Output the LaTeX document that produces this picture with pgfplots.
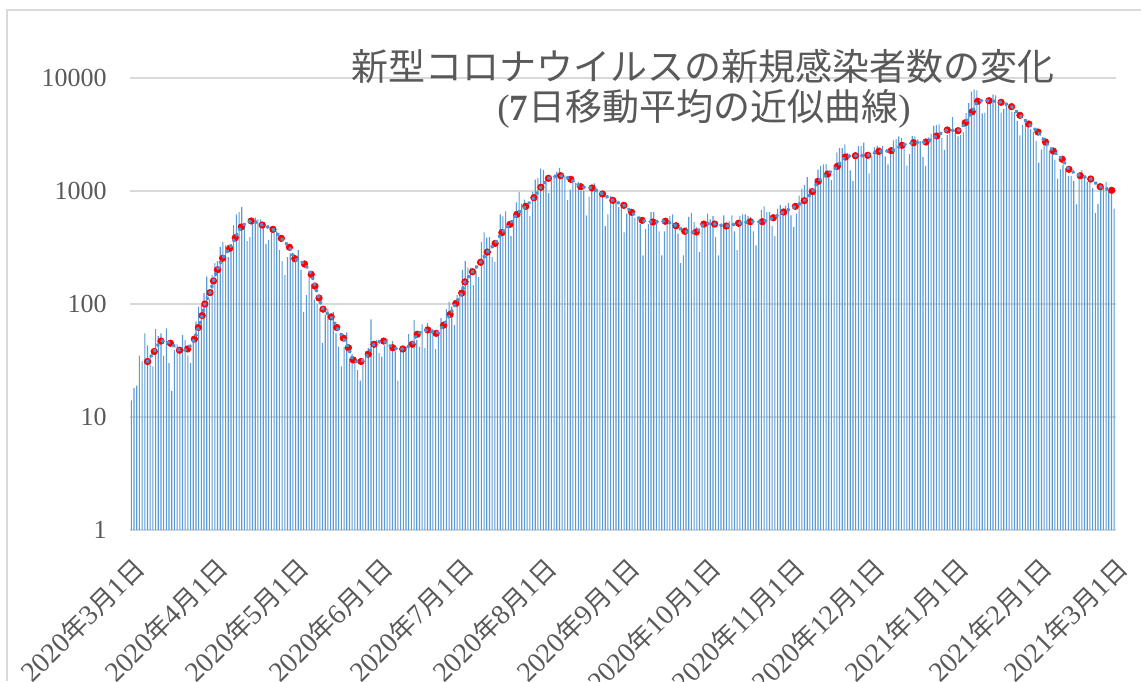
\documentclass[border=0pt]{standalone}
\usepackage{fontspec}
\setmainfont{Liberation Serif}
\newfontfamily\cjk[Scale=0.92]{Noto Sans CJK JP}
\newfontfamily\cjkt{Noto Sans CJK JP}
\usepackage{pgfplots}
\pgfplotsset{compat=1.18}
\usepackage{pgfplotstable}
\definecolor{txt}{HTML}{595959}
\definecolor{gridc}{HTML}{D9D9D9}
\definecolor{barblue}{HTML}{5B9BD5}
\definecolor{dotblue}{HTML}{5090D0}
\newcommand{\ymd}[2]{#1{\cjk 年}#2{\cjk 月}1{\cjk 日}}

\pgfplotstableread{
d v
0 14
1 18
2 19
3 35
4 31
5 55
6 43
7 35
8 28
9 60
10 52
11 55
12 35
13 61
14 30
15 17
16 39
17 44
18 41
19 53
20 48
21 35
22 30
23 48
24 70
25 95
26 98
27 125
28 175
29 110
30 180
31 230
32 240
33 320
34 355
35 330
36 260
37 340
38 500
39 620
40 650
41 720
42 500
43 360
44 390
45 550
46 580
47 560
48 560
49 500
50 340
51 370
52 450
53 430
54 440
55 300
56 240
57 180
58 260
59 280
60 270
61 270
62 300
63 200
64 85
65 120
66 195
67 150
68 110
69 100
70 90
71 45
72 80
73 90
74 75
75 85
76 55
77 42
78 28
79 42
80 56
81 33
82 36
83 30
84 26
85 21
86 29
87 38
88 41
89 73
90 45
91 48
92 37
93 34
94 43
95 49
96 40
97 47
98 38
99 21
100 38
101 41
102 42
103 54
104 41
105 72
106 48
107 42
108 66
109 41
110 68
111 58
112 60
113 40
114 55
115 75
116 70
117 90
118 105
119 95
120 65
121 120
122 125
123 200
124 240
125 210
126 209
127 147
128 194
129 173
130 355
131 430
132 387
133 391
134 260
135 235
136 335
137 620
138 595
139 660
140 505
141 400
142 630
143 795
144 981
145 770
146 840
147 710
148 600
149 980
150 1260
151 1300
152 1580
153 1540
154 1330
155 960
156 1240
157 1350
158 1480
159 1600
160 1440
161 1370
162 830
163 1030
164 1230
165 1180
166 1200
167 1000
168 1010
169 610
170 890
171 1070
172 1170
173 1030
174 920
175 910
176 490
177 620
178 900
179 850
180 830
181 720
182 760
183 430
184 630
185 650
186 670
187 580
188 590
189 510
190 270
191 460
192 510
193 650
194 650
195 550
196 440
197 270
198 440
199 580
200 600
201 620
202 480
203 420
204 230
205 270
206 480
207 590
208 640
209 530
210 480
211 290
212 520
213 540
214 630
215 560
216 600
217 390
218 270
219 490
220 610
221 520
222 540
223 610
224 440
225 300
226 600
227 620
228 620
229 600
230 590
231 440
232 330
233 510
234 680
235 730
236 650
237 650
238 490
239 400
240 700
241 750
242 700
243 740
244 780
245 610
246 480
247 630
248 910
249 1050
250 1130
251 1330
252 1070
253 960
254 1290
255 1550
256 1660
257 1720
258 1740
259 1440
260 1250
261 1700
262 2200
263 2400
264 2400
265 2590
266 2170
267 1520
268 1230
269 1940
270 2500
271 2500
272 2680
273 2040
274 1430
275 2030
276 2430
277 2510
278 2440
279 2510
280 2030
281 1720
282 2170
283 2810
284 2870
285 3040
286 2960
287 2370
288 1680
289 2120
290 3060
291 3040
292 2860
293 2760
294 1990
295 1660
296 2990
297 3210
298 3770
299 3830
300 3880
301 2940
302 2310
303 3120
304 3600
305 4520
306 3250
307 3050
308 3140
309 3310
310 4890
311 6000
312 7570
313 7950
314 7790
315 6090
316 4870
317 4930
318 5870
319 6600
320 7130
321 7010
322 5760
323 4930
324 5320
325 5650
326 5700
327 5040
328 5000
329 4180
330 3110
331 3850
332 4000
333 3820
334 3530
335 3340
336 2760
337 1780
338 2320
339 2630
340 2580
341 2280
342 2290
343 1890
344 1290
345 1560
346 1710
347 1580
348 1360
349 1360
350 1230
351 760
352 1300
353 1530
354 1310
355 1210
356 1230
357 1060
358 640
359 770
360 1150
361 1090
362 1200
363 1000
364 990
365 700
}\daily

\pgfplotstableread{
d v
6.0 31
8.5 38
11.0 47
14.5 45
17.9 39
20.9 40
23.4 49
24.9 62
26.3 79
27.3 100
29.2 126
30.5 160
32.0 201
33.9 254
36.5 311
38.6 386
40.8 480
44.5 543
48.6 500
52.6 458
55.7 381
58.7 318
60.7 252
64.3 226
66.8 183
68.2 144
69.7 113
71.2 90
74.2 77
76.3 62
78.7 50
80.6 41
82.4 32
85.3 31
88.0 36
90.1 44
93.7 47
97.1 41
100.8 40
104.3 44
106.2 54
110.1 59
113.2 55
116.0 65
118.4 81
120.5 101
122.7 125
123.9 157
126.7 193
129.7 234
132.2 288
135.1 344
137.6 428
140.6 507
143.2 622
146.5 733
149.5 873
152.1 1079
154.9 1296
159.4 1366
163.2 1270
166.9 1092
171.1 1064
175.0 940
178.8 827
182.9 747
185.8 648
189.7 550
193.7 532
198.3 540
202.3 493
205.5 440
209.8 434
212.6 510
216.6 510
220.9 490
225.5 518
229.9 535
234.3 535
238.4 580
242.3 652
246.6 732
249.9 821
252.9 986
255.1 1219
258.6 1414
262.2 1654
265.2 2000
268.9 2052
273.5 2070
277.6 2245
282.2 2274
286.2 2537
290.5 2675
295.1 2714
299.1 3069
303.0 3467
307.0 3418
309.7 4020
312.3 5036
314.3 6222
318.5 6300
323.0 6095
326.9 5575
330.0 4677
333.3 3918
336.7 3327
339.5 2714
342.4 2258
345.7 1911
348.2 1556
352.4 1366
356.3 1277
359.8 1092
364.1 1014
}\trend

\begin{document}
\begin{tikzpicture}[x=1pt,y=1pt]
\path[use as bounding box] (0,0) rectangle (570.5,340.5);
\fill[white] (0,0) rectangle (570.5,340.5);
\draw[gridc, line width=0.75pt] (3.5,0) -- (3.5,335.5) -- (570.5,335.5);
\begin{axis}[
  at={(65pt,75.5pt)}, anchor=south west,
  scale only axis, width=492.75pt, height=226pt,
  ymode=log, log basis y=10, ymin=1, ymax=10000,
  xmin=-0.5, xmax=365.5,
  clip marker paths=true,
  ytick={1,10,100,1000,10000},
  yticklabels={1,10,100,1000,10000},
  xtick={0,31,61,92,122,153,184,214,245,275,306,337,365},
  xticklabels={\ymd{2020}{3},\ymd{2020}{4},\ymd{2020}{5},\ymd{2020}{6},\ymd{2020}{7},\ymd{2020}{8},\ymd{2020}{9},\ymd{2020}{10},\ymd{2020}{11},\ymd{2020}{12},\ymd{2021}{1},\ymd{2021}{2},\ymd{2021}{3}},
  axis line style={draw=none},
  major tick length=0pt, minor tick length=0pt,
  xminorticks=false, yminorticks=false,
  ymajorgrids, major grid style={gridc, line width=0.9pt},
  tick label style={text=txt},
  yticklabel style={font=\fontsize{13pt}{15pt}\selectfont, inner sep=0pt, anchor=east, xshift=-11.5pt},
  xticklabel style={font=\fontsize{14pt}{16pt}\selectfont, yshift=-12pt, rotate=45, anchor=north east, inner sep=0pt},
]
\addplot[ybar, bar width=0.55pt, bar shift=0pt, fill=barblue, draw=none] table[x=d,y=v]{\daily};
\addplot[only marks, mark=*, mark size=1.6pt, mark options={fill=red, draw=red}] table[x=d,y=v]{\trend};
\addplot[color=dotblue, solid, line width=1.9pt, line cap=round, dash pattern=on 0.3pt off 2.9pt, mark=none, smooth, tension=0.4] table[x=d,y=v]{\trend};
\end{axis}
\node[anchor=base, text=txt, inner sep=0pt, font=\fontsize{18.5pt}{22pt}\selectfont\cjkt] at (351.5,300) {新型コロナウイルスの新規感染者数の変化};
\node[anchor=base, text=txt, inner sep=0pt, font=\fontsize{18.5pt}{22pt}\selectfont] at (352,280) {(\textbf{7}{\cjkt 日移動平均の近似曲線})};
\end{tikzpicture}
\end{document}
